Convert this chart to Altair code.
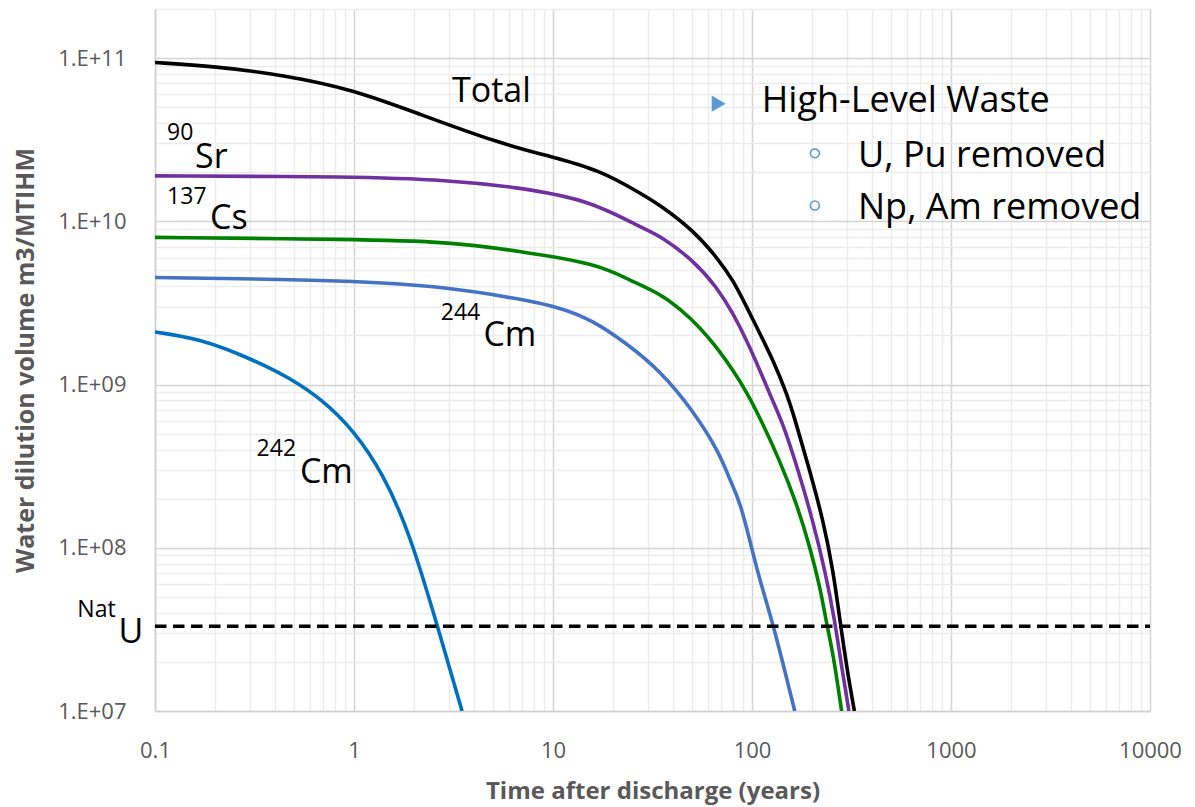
import altair as alt
import pandas as pd

# ---- data ----
total_t = [0.1, 0.2, 0.44, 1.0, 2.07, 5.4, 9.7, 17.2, 27.4, 34.5, 50.7, 66.5, 80.5, 94.1, 109.6,
           127.9, 149, 164, 195, 228, 256, 277, 301, 327]
total_v = [9.4e10, 8.9e10, 7.9e10, 6.4e10, 4.6e10, 3.0e10, 2.5e10, 2.06e10, 1.49e10, 1.26e10, 8.8e9,
           6.04e9, 4.35e9, 2.98e9, 2.05e9, 1.40e9, 8.9e8, 6.2e8, 2.97e8, 1.47e8, 7.2e7, 3.56e7,
           1.76e7, 1.0e7]

sr_t = [0.1, 1.0, 3.0, 6.6, 15.3, 27.4, 34.5, 50.7, 66.5, 80.5, 94.1, 109.6, 127.9, 143.5, 171,
        202, 233, 261, 284, 307]
sr_v = [1.9e10, 1.88e10, 1.79e10, 1.62e10, 1.35e10, 9.2e9, 8.2e9, 5.77e9, 3.96e9, 2.72e9, 1.86e9,
        1.22e9, 7.8e8, 5.7e8, 2.97e8, 1.47e8, 7.2e7, 3.56e7, 1.76e7, 1.0e7]

cs_t = [0.1, 1.0, 3.0, 6.6, 16.7, 24.4, 34.5, 43.5, 54.8, 66.5, 80.5, 94, 110, 138, 168, 196,
        220, 237, 256, 282]
cs_v = [7.98e9, 7.76e9, 7.5e9, 6.6e9, 5.5e9, 4.35e9, 3.6e9, 2.91e9, 2.24e9, 1.69e9, 1.22e9, 9.0e8,
        6.2e8, 3.42e8, 1.85e8, 1.0e8, 5.7e7, 3.43e7, 2.23e7, 1.0e7]

cm244_t = [0.1, 1.0, 3.0, 6.6, 10.8, 15.9, 23.5, 34.5, 50.7, 69.1, 77.5, 87, 101.5, 109.6, 128, 164]
cm244_v = [4.53e9, 4.35e9, 3.94e9, 3.37e9, 2.98e9, 2.47e9, 1.78e9, 1.22e9, 6.9e8, 3.76e8, 2.58e8,
           1.94e8, 9.1e7, 6.3e7, 3.4e7, 1.0e7]

cm242_t = [0.1, 0.168, 0.30, 0.476, 0.70, 1.0, 1.4, 1.91, 2.61, 3.49]
cm242_v = [2.1e9, 1.91e9, 1.45e9, 1.1e9, 8.0e8, 5.2e8, 2.85e8, 1.22e8, 3.4e7, 1.0e7]

series_names = ["242Cm", "244Cm", "137Cs", "90Sr", "Total"]
series_colors = ["#0070C0", "#4472C4", "#008000", "#7030A0", "#000000"]

natu_t = [0.1, 10000]
natu_v = [3.3e7, 3.3e7]

# annotation labels (left edge / baseline positions in data units)
ann_text = ["Total", "90", "Sr", "137", "Cs", "244", "Cm", "242", "Cm", "Nat", "U",
            "High-Level Waste", "U, Pu removed", "Np, Am removed"]
ann_t = [3.11, 0.115, 0.159, 0.115, 0.189, 2.73, 4.47, 0.324, 0.535, 0.0407, 0.0655,
         112, 341, 341]
ann_v = [5.4e10, 3.14e10, 2.12e10, 1.28e10, 9.0e9, 2.47e9, 1.73e9, 3.67e8, 2.48e8, 3.78e7, 2.62e7,
         4.69e10, 2.15e10, 1.04e10]
ann_size = [34, 23, 34, 23, 34, 23, 34, 23, 34, 23, 34, 36, 36, 36]

bullet_shape = ["triangle-right", "circle", "circle"]
bullet_t = [68, 207, 207]
bullet_v = [5.26e10, 2.61e10, 1.25e10]

# ---- build tables ----
rows = []
for name, ts, vs in [("Total", total_t, total_v), ("90Sr", sr_t, sr_v), ("137Cs", cs_t, cs_v),
                     ("244Cm", cm244_t, cm244_v), ("242Cm", cm242_t, cm242_v)]:
    for i, (t, v) in enumerate(zip(ts, vs)):
        rows.append({"series": name, "t": t, "v": v, "i": i})
lines_df = pd.DataFrame(rows)
natu_df = pd.DataFrame({"t": natu_t, "v": natu_v})
ann_df = pd.DataFrame({"t": ann_t, "v": ann_v, "text": ann_text, "fs": ann_size})
bul_df = pd.DataFrame({"t": bullet_t, "v": bullet_v, "shape": bullet_shape})

x_vals = [k * 10.0 ** d for d in range(-1, 4) for k in range(1, 10)] + [10000]
y_vals = [k * 10.0 ** d for d in range(7, 11) for k in range(1, 10)] + [1e11, 2e11]

is_dec = "abs(log(datum.value)/LN10 - round(log(datum.value)/LN10)) < 1e-6"
grid_color = {"condition": {"test": is_dec, "value": "#d4d4d4"}, "value": "#ececec"}

FONT = "Open Sans"
GRAY = "#595959"

x_scale = alt.Scale(type="log", domain=[0.1, 10000], nice=False)
y_scale = alt.Scale(type="log", domain=[1e7, 2e11], nice=False)

x_axis = alt.Axis(
    values=x_vals,
    labelExpr=f"({is_dec}) ? (datum.value < 1 ? '0.1' : format(datum.value, 'd')) : ''",
    grid=True, gridColor=grid_color, gridWidth=1.5,
    ticks=False, tickSize=0, domainColor="#d0d0d0", domainWidth=1.5,
    labelFont=FONT, labelFontSize=22, labelColor=GRAY, labelPadding=46,
    labelBaseline="alphabetic", labelOverlap=False, labelFlush=False, labelBound=False,
    title="Time after discharge (years)", titleFont=FONT, titleFontSize=24,
    titleFontWeight="bold", titleColor=GRAY, titleBaseline="alphabetic", titleY=87,
)
y_axis = alt.Axis(
    values=y_vals,
    labelExpr=f"({is_dec}) ? '1.E+' + (round(log(datum.value)/LN10) < 10 ? '0' : '') + round(log(datum.value)/LN10) : ''",
    grid=True, gridColor=grid_color, gridWidth=1.5,
    ticks=False, tickSize=0, domainColor="#d0d0d0", domainWidth=1.5,
    labelFont=FONT, labelFontSize=22, labelColor=GRAY, labelPadding=29,
    labelOverlap=False, labelFlush=False, labelBound=False,
    title="Water dilution volume m3/MTIHM", titleFont=FONT, titleFontSize=25,
    titleFontWeight="bold", titleColor=GRAY, titleBaseline="alphabetic",
    titleAngle=270, titleAlign="center", titleX=-122, titleY=351,
)

base_x = alt.X("t:Q", scale=x_scale, axis=x_axis)
base_y = alt.Y("v:Q", scale=y_scale, axis=y_axis)

lines = alt.Chart(lines_df).mark_line(strokeWidth=3.6, interpolate="basis", clip=True).encode(
    x=base_x, y=base_y,
    color=alt.Color("series:N", scale=alt.Scale(domain=series_names, range=series_colors), legend=None),
    order="i:Q",
)

natu = alt.Chart(natu_df).mark_line(strokeWidth=3.5, strokeDash=[11.5, 6.5], color="black", clip=True).encode(
    x=alt.X("t:Q", scale=x_scale), y=alt.Y("v:Q", scale=y_scale)
)

texts = alt.Chart(ann_df).mark_text(align="left", baseline="alphabetic", font=FONT, color="black").encode(
    x=alt.X("t:Q", scale=x_scale), y=alt.Y("v:Q", scale=y_scale),
    text="text:N", size=alt.Size("fs:Q", scale=None),
)

tri = alt.Chart(bul_df[bul_df["shape"] == "triangle-right"]).mark_point(
    shape="triangle-right", filled=True, color="#5B9BD5", size=260, opacity=1
).encode(x=alt.X("t:Q", scale=x_scale), y=alt.Y("v:Q", scale=y_scale))

circ = alt.Chart(bul_df[bul_df["shape"] == "circle"]).mark_point(
    shape="circle", filled=False, color="#5B9BD5", size=80, strokeWidth=1.6, opacity=1
).encode(x=alt.X("t:Q", scale=x_scale), y=alt.Y("v:Q", scale=y_scale))

chart = alt.layer(lines, natu, texts, tri, circ).properties(
    width=995, height=702,
    autosize=alt.AutoSizeParams(type="none"),
    padding={"left": 155, "top": 9, "right": 45, "bottom": 96},
    background="white",
).configure_view(strokeWidth=0)

chart.save("out.html", embed_options={"renderer": "svg", "actions": False})
